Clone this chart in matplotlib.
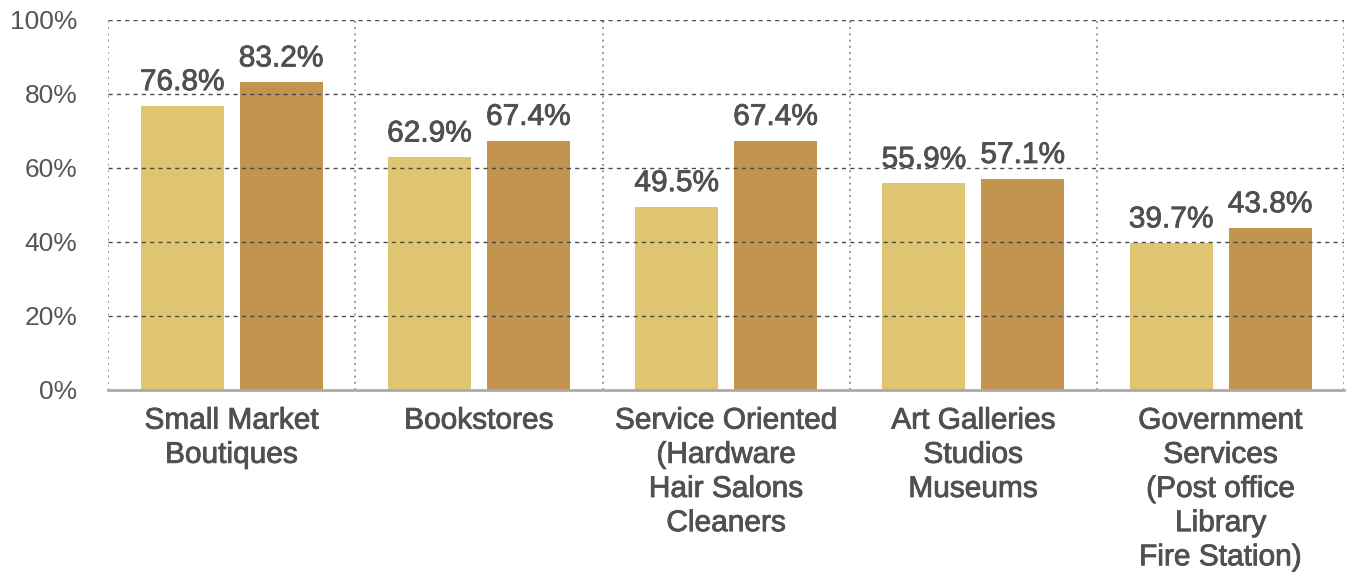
import matplotlib
matplotlib.use('Agg')
import matplotlib.pyplot as plt
import matplotlib.patheffects as pe
import numpy as np

# data
categories = [
    "Small Market\nBoutiques",
    "Bookstores",
    "Service Oriented\n(Hardware\nHair Salons\nCleaners",
    "Art Galleries\nStudios\nMuseums",
    "Government\nServices\n(Post office\nLibrary\nFire Station)",
]
series_a = [76.8, 62.9, 49.5, 55.9, 39.7]
series_b = [83.2, 67.4, 67.4, 57.1, 43.8]
y_ticks = [0, 20, 40, 60, 80, 100]

plt.rcParams['font.family'] = ['Liberation Sans', 'DejaVu Sans']
text_color = '#555555'
# fake a medium weight for the bigger labels
medium = [pe.withStroke(linewidth=0.6, foreground='#505050')]

fig = plt.figure(figsize=(13.51, 5.73), dpi=100)
ax = fig.add_axes([0.080, 0.3194, 0.915, 0.6457])

x = np.arange(len(categories))
w = 0.336
off = 0.2
bars_a = ax.bar(x - off, series_a, width=w, color='#DFC471', zorder=2)
bars_b = ax.bar(x + off, series_b, width=w, color='#C29450', zorder=2)

for bars, vals in ((bars_a, series_a), (bars_b, series_b)):
    for b, v in zip(bars, vals):
        ax.annotate(f'{v:.1f}%', (b.get_x() + b.get_width() / 2, v),
                    xytext=(0, 7), textcoords='offset points',
                    ha='center', va='bottom', fontsize=21.5, color='#505050',
                    zorder=4, path_effects=medium)

ax.set_xlim(-0.5, len(categories) - 0.5)
ax.set_ylim(0, 100)

# horizontal dashed grid drawn on top of the bars
for t in y_ticks[1:]:
    ax.axhline(t, color='#4a4a4a', lw=1.0, ls=(0, (3, 3)), zorder=3)
# vertical dotted separators
for sx in np.arange(-0.5, len(categories), 1.0):
    ax.axvline(sx, color='#999999', lw=1.4, ls=(0, (1, 2.2)), zorder=1)

ax.set_yticks(y_ticks)
ax.set_yticklabels([f'{t}%' for t in y_ticks])
ax.set_xticks(x)
ax.set_xticklabels(categories, linespacing=1.28)
ax.tick_params(axis='y', length=0, pad=22, labelsize=19, labelcolor=text_color)
ax.tick_params(axis='x', length=0, pad=12, labelsize=21.5, labelcolor='#505050')
for lab in ax.get_xticklabels():
    lab.set_path_effects(medium)

for s in ('top', 'right', 'left'):
    ax.spines[s].set_visible(False)
ax.spines['bottom'].set_color('#AAAAAA')
ax.spines['bottom'].set_linewidth(2)
ax.spines['bottom'].set_zorder(5)

fig.savefig('out.png', dpi=100)
